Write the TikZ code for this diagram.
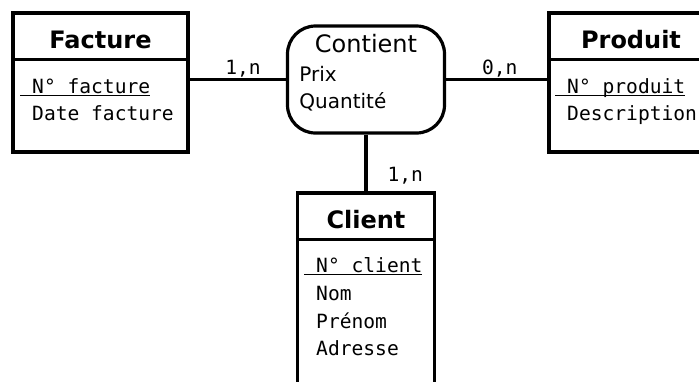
\documentclass[tikz,border=0pt]{standalone}
\usepackage{fontspec}
\setmainfont{DejaVu Sans}
\setmonofont{DejaVu Sans Mono}
\begin{document}
\begin{tikzpicture}[
	x=0.5pt, y=-0.5pt,
	every node/.style={inner sep=0pt},
	entity/.style={draw, line width=1.6pt, rectangle},
	assoc/.style={draw, line width=1.6pt, rectangle, rounded corners=14pt},
	title/.style={anchor=base, font=\fontsize{12}{14}\selectfont\bfseries},
	attr/.style={anchor=base west, font=\fontsize{9.8}{12}\selectfont\ttfamily},
	card/.style={anchor=base, font=\fontsize{9.8}{12}\selectfont\ttfamily},
	link/.style={line width=1.6pt},
	]
	\useasboundingbox (0,0) rectangle (699,381);
	\clip (0,0) rectangle (699,381);

	%entities
	\node[entity, minimum width=87.5pt, minimum height=69.5pt] (facture) at (100.5,82.5) {};
	\node[entity, minimum width=82pt, minimum height=69.5pt] (produit) at (631,82.5) {};
	\node[entity, minimum width=68.5pt, minimum height=113.5pt] (client) at (366,306.5) {};
	\node[assoc, minimum width=78.5pt, minimum height=53.5pt] (contient) at (366,79.5) {};
	\foreach \e in {facture,produit,client}
		\draw[link] ([yshift=-24pt]\e.north west) -- ([yshift=-24pt]\e.north east);

	%names
	\node[title] (facturename) at (100.5,48) {Facture};
	\node[title] (produitname) at (631,48) {Produit};
	\node[title] (clientname) at (366,228) {Client};
	\node[title, font=\fontsize{12}{14}\selectfont] (contientname) at (366,52) {Contient};

	%attributes
	\node[attr] (fnum) at (20,93) {\underline{\smash{\ N° facture}}};
	\node[attr] (fdate) at (20,120) {\ Date facture};
	\node[attr] (pnum) at (555,93) {\underline{\smash{\ N° produit}}};
	\node[attr] (pdesc) at (555,120) {\ Description};
	\node[attr] (cnum) at (304,272) {\underline{\smash{\ N° client}}};
	\node[attr] (cnom) at (304,300) {\ Nom};
	\node[attr] (cprenom) at (304,328) {\ Prénom};
	\node[attr] (cadresse) at (304,355) {\ Adresse};
	\node[anchor=base west, font=\fontsize{10}{12}\selectfont] (prix) at (299,81) {Prix};
	\node[anchor=base west, font=\fontsize{10}{12}\selectfont] (quantite) at (299,108) {Quantité};

	%links
	\draw[link] (contient.west) -- node[card, pos=0.445, yshift=2.5pt] {1,n} (contient.west -| facture.east);
	\draw[link] (contient.east) -- node[card, pos=0.53, yshift=2.5pt] {0,n} (contient.east -| produit.west);
	\draw[link] (contient.south) -- node[card, anchor=base west, pos=0.83, xshift=10pt] {1,n} (client.north);
\end{tikzpicture}
\end{document}
